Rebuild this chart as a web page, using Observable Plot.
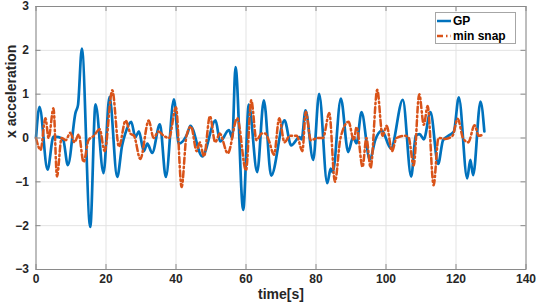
<!DOCTYPE html>
<html><head><meta charset="utf-8">
<script src="https://cdn.jsdelivr.net/npm/d3@7"></script>
<script src="https://cdn.jsdelivr.net/npm/@observablehq/plot@0.6"></script>
<style>
body{margin:0;background:#fff;}
#wrap{position:relative;width:540px;height:307px;}
.legend{position:absolute;left:435px;top:12px;width:79px;height:30px;border:1px solid #a6a6a6;background:#fff;font:bold 12px "Liberation Sans",Arial,sans-serif;color:#000;}
.legend .row{position:absolute;left:1px;height:14px;display:flex;align-items:center;}
.legend .row span{margin-left:2px;}
</style></head>
<body><div id="wrap"></div>
<script>
const seriesNames = ["GP", "min snap"];
const seriesColors = ["#0072BD", "#D95319"];
const xTicks = [0, 20, 40, 60, 80, 100, 120, 140];
const yTicks = [-3, -2, -1, 0, 1, 2, 3];

const gpTime = [0,1.0,3.3,5.0,6.5,7.8,9.1,11.3,12.0,13.1,15.5,17.0,19.3,21.0,23.2,24.6,25.5,27.2,28.4,29.4,30.8,31.8,33.2,35.4,37.1,39.4,40.8,43.2,44.1,47.5,51.3,52.6,55.1,56.1,57.0,59.2,60.8,63.2,65.1,67.2,71.0,72.9,75.3,75.9,77.0,79.2,80.9,83.2,84.2,84.8,87.1,89.2,90.6,91.6,93.0,95.4,96.9,98.8,101.4,104.8,107.2,108.5,109.6,110.8,112.7,114.9,116.3,118.0,119.4,120.8,123.2,124.1,124.9,127.0,128.1];
const gpAccel = [0,0.71,-0.72,0.03,0.02,-0.05,-0.62,0.58,0.75,2.04,-2.03,0.77,-0.8,0.94,-0.89,-0.17,0.1,0.37,0.02,0.15,-0.3,-0.13,-0.34,0.31,-0.89,0.88,-0.13,0.09,0.28,-0.42,0.4,-0.08,0.18,0.0,1.62,-1.64,0.76,-0.78,0.86,-0.86,0.4,-0.17,0.02,-0.03,0.63,-0.5,1.01,-1.03,-0.7,-0.78,0.9,-0.32,0.02,-0.12,0.59,-0.5,-0.05,0.17,-0.24,0.87,-0.88,0.05,0.09,-0.03,0.59,-0.59,-0.05,0.06,0.15,0.93,-0.92,-0.5,-0.85,0.83,0.15];

const snapTime = [0,1.3,2.7,3.6,5.0,6.0,7.3,8.5,9.8,11.0,12.2,13.6,15.0,16.5,18.2,19.6,21.8,23.7,25.6,27.0,28.0,29.8,32.2,33.6,35.0,36.5,38.0,40.0,41.6,43.0,44.3,45.9,46.8,48.0,49.7,51.2,52.5,54.8,57.5,60.0,61.5,63.0,64.5,65.5,66.5,68.0,69.5,71.0,72.5,74.5,76.1,77.1,78.5,80.5,82.0,83.8,85.4,87.0,89.3,90.8,91.6,93.3,94.4,95.6,97.5,99.0,100.2,101.7,103.0,105.5,106.5,107.9,109.5,110.8,111.9,113.6,115.0,117.0,119.0,120.5,122.0,123.5,125.3,126.5,128.0];
const snapAccel = [0,-0.27,0.45,0.0,0.68,-0.88,0.0,-0.05,0.12,-0.1,0.08,-0.55,-0.05,0.05,0.2,-0.3,1.09,-0.2,0.4,0.1,0.05,-0.48,0.4,0.0,0.15,0.05,0.0,0.7,-1.12,0.05,0.26,-0.3,-0.1,-0.42,0.5,-0.1,0.1,-0.35,0.45,-0.74,0.86,-0.05,0.1,0.1,-0.05,-0.38,0.45,-0.1,0.05,0.05,-0.3,0.6,-0.05,0.0,0.0,0.57,-1.0,0.0,0.37,-0.05,0.25,-0.66,0.0,-0.68,1.1,0.05,0.28,-0.3,0.0,0.05,0.0,-0.63,1.0,0.3,0.73,-1.08,0.0,-0.02,0.05,0.44,0.0,-0.1,0.29,0.05,0.09];

const gp = gpTime.map((t, i) => ({t, v: gpAccel[i]}));
const snap = snapTime.map((t, i) => ({t, v: snapAccel[i]}));

const W = 540, H = 307, mL = 35.5, mR = 14.5, mT = 6, mB = 38;
const pw = W - mL - mR, ph = H - mT - mB;
const axisColor = "#8a8a8a";
const font = '"Liberation Sans", Arial, sans-serif';

const chart = Plot.plot({
  width: W, height: H,
  marginLeft: mL, marginRight: mR, marginTop: mT, marginBottom: mB,
  x: {domain: [0, 140]},
  y: {domain: [-3, 3]},
  style: {fontFamily: font, fontSize: "12px", fontWeight: "bold", color: "#262626", background: "#fff"},
  marks: [
    Plot.gridX(xTicks, {stroke: "#e3e3e3", strokeOpacity: 1}),
    Plot.gridY(yTicks, {stroke: "#e3e3e3", strokeOpacity: 1}),
    Plot.line(gp, {x: "t", y: "v", stroke: seriesColors[0], strokeWidth: 2.7, curve: "monotone-x"}),
    Plot.line(snap, {x: "t", y: "v", stroke: seriesColors[1], strokeWidth: 2.5, curve: "monotone-x", strokeDasharray: "6,3,1.5,3"}),
    Plot.frame({stroke: axisColor}),
    Plot.tickX(xTicks, {x: d => d, insetTop: ph - 5, stroke: axisColor}),
    Plot.tickX(xTicks, {x: d => d, insetBottom: ph - 5, stroke: axisColor}),
    Plot.tickY(yTicks, {y: d => d, insetRight: pw - 5, stroke: axisColor}),
    Plot.tickY(yTicks, {y: d => d, insetLeft: pw - 5, stroke: axisColor}),
    Plot.axisX(xTicks, {tickSize: 0, tickPadding: 5, label: null, fill: "#262626"}),
    Plot.axisY(yTicks, {tickSize: 0, tickPadding: 7, label: null, fill: "#262626"}),
    Plot.text(["time[s]"], {frameAnchor: "bottom", dy: 29, fontSize: 14, fill: "#262626"}),
    Plot.text(["x acceleration"], {frameAnchor: "left", dx: -24, rotate: -90, fontSize: 14, fill: "#262626"})
  ]
});

const wrap = document.getElementById("wrap");
wrap.appendChild(chart);

const legend = document.createElement("div");
legend.className = "legend";
const dashes = [null, "6,3,1.5,3"];
seriesNames.forEach((name, i) => {
  const row = document.createElement("div");
  row.className = "row";
  row.style.top = (i === 0 ? 1 : 16) + "px";
  row.innerHTML = `<svg width="14" height="6"><line x1="0" y1="3" x2="14" y2="3" stroke="${seriesColors[i]}" stroke-width="2.5" ${dashes[i] ? `stroke-dasharray="${dashes[i]}"` : ""}/></svg><span>${name}</span>`;
  legend.appendChild(row);
});
wrap.appendChild(legend);
</script>
</body></html>
